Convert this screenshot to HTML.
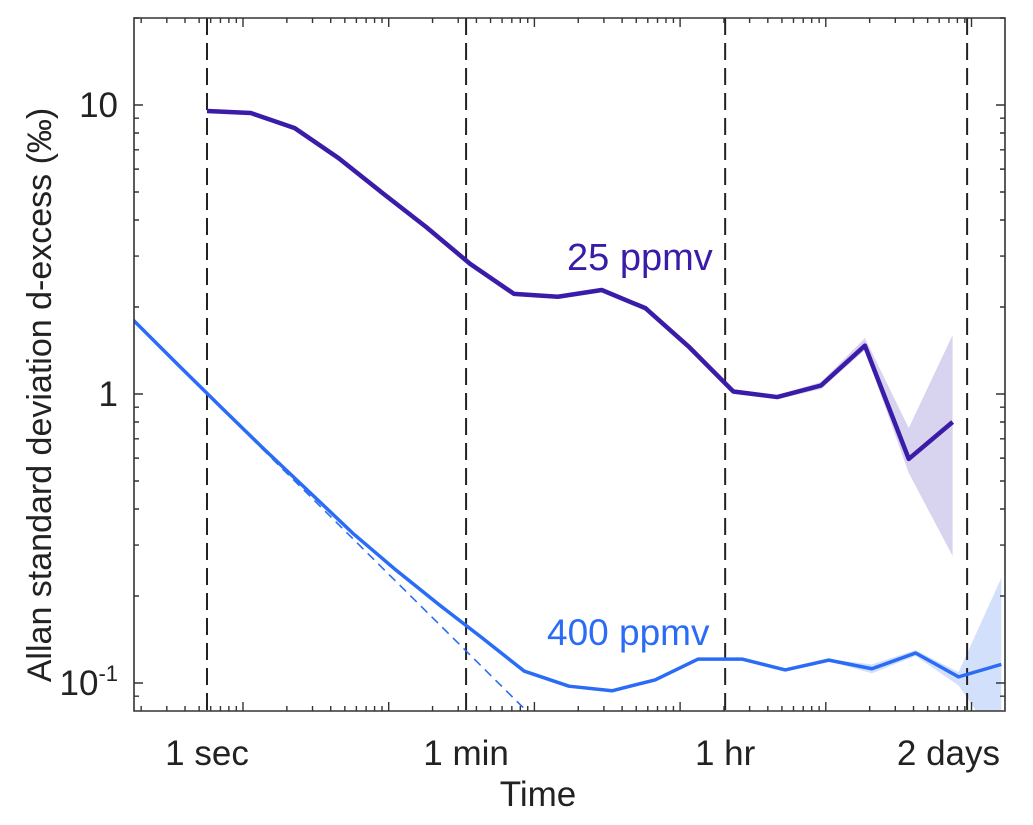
<!DOCTYPE html>
<html><head><meta charset="utf-8"><style>
html,body{margin:0;padding:0;background:#fff;}
svg{display:block;font-family:"Liberation Sans",Arial,sans-serif;}
</style></head><body>
<svg id="chart" width="1033" height="825" viewBox="0 0 1033 825" xmlns="http://www.w3.org/2000/svg">
<g id="bands"></g><g id="guides"></g><g id="lines"></g><g id="axes"></g><g id="labels"></g>
</svg>
<script>
// ---- data ----
const tau25 = [1,2,4,8,16,32,64,128,256,512,1024,2048,4096,8192,16384,32768,65536,131072];
const val25 = [9.53,9.38,8.32,6.55,4.96,3.78,2.82,2.22,2.17,2.29,1.98,1.45,1.02,0.976,1.07,1.47,0.596,0.80];
const hi25  = [9.63,9.48,8.42,6.63,5.03,3.83,2.86,2.25,2.20,2.32,2.01,1.47,1.04,0.99,1.10,1.56,0.763,1.60];
const lo25  = [9.43,9.28,8.22,6.47,4.89,3.73,2.78,2.19,2.14,2.26,1.95,1.43,1.00,0.96,1.04,1.42,0.533,0.275];
const tau400 = [0.3125,0.625,1.25,2.5,5,10,20,40,75,150,305,602,1190,2350,4700,9300,18500,36600,73000,144000,283000];
const val400 = [1.8,1.27,0.90,0.64,0.46,0.33,0.245,0.185,0.145,0.110,0.0975,0.094,0.1025,0.121,0.121,0.111,0.120,0.112,0.127,0.105,0.116];
const hi400  = [1.81,1.28,0.91,0.645,0.464,0.333,0.247,0.187,0.146,0.111,0.0985,0.095,0.1035,0.122,0.122,0.112,0.121,0.116,0.130,0.109,0.231];
const lo400  = [1.79,1.26,0.89,0.635,0.456,0.327,0.243,0.183,0.144,0.109,0.0965,0.093,0.1015,0.120,0.120,0.110,0.119,0.108,0.124,0.098,0.060];
const refTau = [0.3125,200];          // 1/sqrt(tau) reference line
const guideTau = [1,60,3600,172800];
const guideLabels = ["1 sec","1 min","1 hr","2 days"];
const yTicks = [0.1,1,10];

// ---- scales ----
const L=134,R=1005,T=18,B=711;
const xs = t => 207 + 145.7*Math.log10(t);
const ys = v => 394 - 289*Math.log10(v);
const NS="http://www.w3.org/2000/svg";
function mk(tag, attrs, parent){const e=document.createElementNS(NS,tag);for(const k in attrs)e.setAttribute(k,attrs[k]);document.getElementById(parent).appendChild(e);return e;}
const clip = mk('clipPath',{id:'pc'},'bands');
const cr=document.createElementNS(NS,'rect');cr.setAttribute('x',L);cr.setAttribute('y',T);cr.setAttribute('width',R-L);cr.setAttribute('height',B-T);clip.appendChild(cr);

function band(tau,hi,lo,fill,name){
  let pts=tau.map((t,i)=>xs(t)+','+ys(hi[i]));
  for(let i=tau.length-1;i>=0;i--)pts.push(xs(tau[i])+','+ys(lo[i]));
  const p=mk('polygon',{points:pts.join(' '),fill:fill,'clip-path':'url(#pc)'},'bands');
  
  
}
band(tau25,hi25,lo25,'#d8d3ee','band-25ppmv');
band(tau400,hi400,lo400,'#d3e0fc','band-400ppmv');

function line(tau,val,stroke,w,name,dash){
  const a={points:tau.map((t,i)=>xs(t)+','+ys(val[i])).join(' '),fill:'none',stroke:stroke,'stroke-width':w,'stroke-linejoin':'round','clip-path':'url(#pc)'};
  if(dash)a['stroke-dasharray']=dash;
  const p=mk('polyline',a,'lines');
  
  
}
line(refTau,refTau.map(t=>1/Math.sqrt(t)),'#2b6cf6',1.6,'reference-slope-line','9,6');
line(tau25,val25,'#3a1ca8',4.5,'line-25ppmv');
line(tau400,val400,'#2b6cf6',3.5,'line-400ppmv');

guideTau.forEach((t,i)=>{
  const gx = xs(t) - (i===3 ? 3 : 0);
  const g=mk('line',{x1:gx,x2:gx,y1:T,y2:B,stroke:'#222','stroke-width':2,'stroke-dasharray':'17,8'},'guides');
  
  
  const last = i===guideTau.length-1;
  const tx=mk('text',{x:last?1000:xs(t),y:765,'font-size':35,'text-anchor':last?'end':'middle',fill:'#222'},'labels');
  tx.textContent=guideLabels[i];
  
  
});

// axes box
const box=mk('path',{d:`M${L},${T}H${R}V${B}H${L}Z`,fill:'none',stroke:'#333','stroke-width':1.6},'axes');


let tk='';
for(let d=-2;d<=1;d++)for(let k=1;k<=9;k++){
  const v=k*Math.pow(10,d);const y=ys(v);if(y<T||y>B)continue;
  const len=k===1?9:5;
  tk+=`M${L},${y}h${len}M${R},${y}h${-len}`;
}
for(let d=-2;d<=6;d++)for(let k=1;k<=9;k++){
  const x=243+145.7*(d+Math.log10(k));if(x<L||x>R)continue;
  const len=k===1?9:5;
  tk+=`M${x},${B}v${-len}M${x},${T}v${len}`;
}
const ticks=mk('path',{d:tk,stroke:'#333','stroke-width':1.4,fill:'none'},'axes');



yTicks.forEach(v=>{
  const t=mk('text',{x:118,y:ys(v)+12,'font-size':35,'text-anchor':'end',fill:'#222'},'labels');
  if(v===0.1){t.innerHTML='10<tspan dy="-14" font-size="22">-1</tspan>';}
  else t.textContent=String(v);
  
  
});
</script>
<script>
const lab=document.getElementById('labels');
function txt(attrs,s,name){const e=document.createElementNS("http://www.w3.org/2000/svg",'text');for(const k in attrs)e.setAttribute(k,attrs[k]);e.textContent=s;lab.appendChild(e);


}
txt({x:538,y:806,'font-size':35,'text-anchor':'middle',fill:'#222'},'Time','x-axis-title');
txt({x:0,y:0,'font-size':34,'text-anchor':'middle',fill:'#222',transform:'translate(51,395) rotate(-90)'},'Allan standard deviation d-excess (‰)','y-axis-title');
txt({x:567,y:270,'font-size':38,fill:'#3a1ca8'},'25 ppmv','label-25ppmv');
txt({x:547,y:645,'font-size':37,fill:'#2b6cf6'},'400 ppmv','label-400ppmv');
</script>
</body></html>
